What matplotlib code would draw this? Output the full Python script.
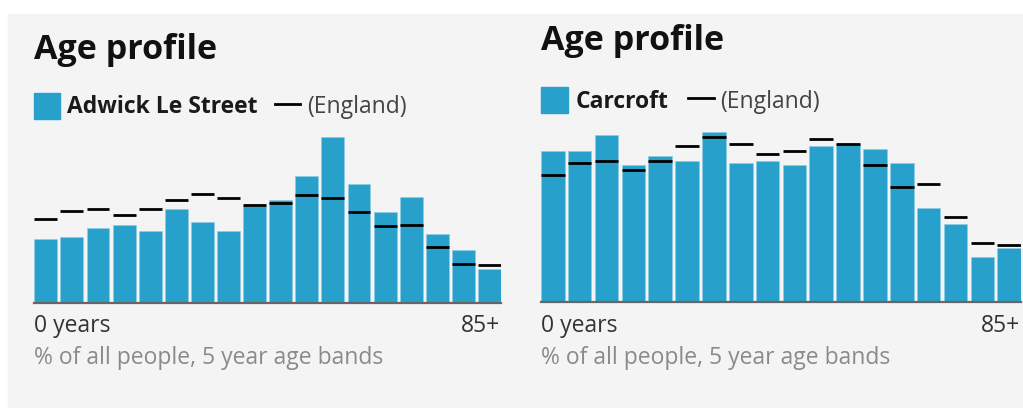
"""Two side-by-side age profile charts: local area bars against England marks."""
import matplotlib

matplotlib.use("Agg")
import matplotlib.pyplot as plt
import numpy as np
from matplotlib.lines import Line2D
from matplotlib.patches import Rectangle

AGE_BANDS = [
    "0-4", "5-9", "10-14", "15-19", "20-24", "25-29", "30-34", "35-39", "40-44",
    "45-49", "50-54", "55-59", "60-64", "65-69", "70-74", "75-79", "80-84", "85+",
]
# % of all people in each 5 year band
ENGLAND = [5.4, 5.9, 6.0, 5.6, 6.0, 6.6, 7.0, 6.7, 6.3, 6.4, 6.9, 6.7, 5.8, 4.9, 5.0, 3.6, 2.5, 2.4]
ADWICK = [4.1, 4.2, 4.8, 5.0, 4.6, 6.0, 5.2, 4.6, 6.2, 6.6, 8.1, 10.6, 7.6, 5.8, 6.8, 4.4, 3.4, 2.2]
CARCROFT = [6.4, 6.4, 7.1, 5.8, 6.2, 6.0, 7.2, 5.9, 6.0, 5.8, 6.6, 6.7, 6.5, 5.9, 4.0, 3.3, 1.9, 2.3]

W, H = 1023, 408
BAR_COLOR = "#27a0cc"
BG = "#f4f4f4"
FONT = "Open Sans"
BAR_WIDTH = 0.88
TEXT_SIZE = 16.5


def fx(x):
    return x / W


def fy(y):
    # pixel row measured from the top -> figure fraction
    return 1 - y / H


def panel(fig, name, values, box, title_y, legend):
    left, top, right, bottom = box
    ax = fig.add_axes([fx(left), fy(bottom), fx(right - left), (bottom - top) / H])
    ax.set_facecolor("none")
    ax.set_zorder(2)
    x = np.arange(len(AGE_BANDS))
    ax.bar(x, values, width=BAR_WIDTH, color=BAR_COLOR, edgecolor="#8fcbe4",
           linewidth=0.4, zorder=2)
    ax.hlines(ENGLAND, x - BAR_WIDTH / 2, x + BAR_WIDTH / 2, colors="black",
              linewidth=2.0, zorder=3)
    ax.axhline(0, color="#666666", linewidth=1.6, zorder=4, clip_on=False)
    ax.set_xlim(-BAR_WIDTH / 2, len(AGE_BANDS) - 1 + BAR_WIDTH / 2)
    ax.set_ylim(0, max(max(values), max(ENGLAND)))
    ax.axis("off")

    fig.text(fx(left), fy(title_y), "Age profile", fontsize=24.5, fontweight="bold",
             family=FONT, color="#111111", va="baseline", ha="left")

    sq_top, sq_bot, text_x, line_x0, line_x1, line_y, eng_x, text_y = legend
    side = sq_bot - sq_top
    fig.patches.append(Rectangle((fx(left), fy(sq_bot)), side / W, side / H,
                                 transform=fig.transFigure, color=BAR_COLOR, zorder=5))
    fig.text(fx(text_x), fy(text_y), name, fontsize=TEXT_SIZE, fontweight="bold",
             family=FONT, color="#1a1a1a", va="baseline", ha="left")
    fig.add_artist(Line2D([fx(line_x0), fx(line_x1)], [fy(line_y), fy(line_y)],
                          color="black", linewidth=2.0, transform=fig.transFigure))
    fig.text(fx(eng_x), fy(text_y), "(England)", fontsize=TEXT_SIZE, family=FONT,
             color="#444444", va="baseline", ha="left")

    fig.text(fx(left), fy(332.5), "0 years", fontsize=TEXT_SIZE, family=FONT,
             color="#333333", va="baseline", ha="left")
    fig.text(fx(right - 1), fy(332.5), AGE_BANDS[-1], fontsize=TEXT_SIZE, family=FONT,
             color="#333333", va="baseline", ha="right")
    fig.text(fx(left), fy(364), "% of all people, 5 year age bands", fontsize=TEXT_SIZE,
             family=FONT, color="#8a8a8a", va="baseline", ha="left")


def main():
    fig = plt.figure(figsize=(W / 100, H / 100), dpi=100)
    fig.patch.set_facecolor("white")
    fig.patches.append(Rectangle((fx(8), 0), 1 - fx(8), fy(14), transform=fig.transFigure,
                                 color=BG, zorder=-1))

    panel(fig, "Adwick Le Street", ADWICK, (34.3, 137.3, 501, 303), 59.3,
          (93.3, 119, 67, 275, 300, 104.3, 307, 113.3))
    panel(fig, "Carcroft", CARCROFT, (541, 132.3, 1021, 302), 50,
          (86.7, 113.3, 575.7, 687.7, 714.3, 98.3, 720, 108.3))

    fig.savefig("out.png", dpi=100, facecolor=fig.get_facecolor())


if __name__ == "__main__":
    main()
